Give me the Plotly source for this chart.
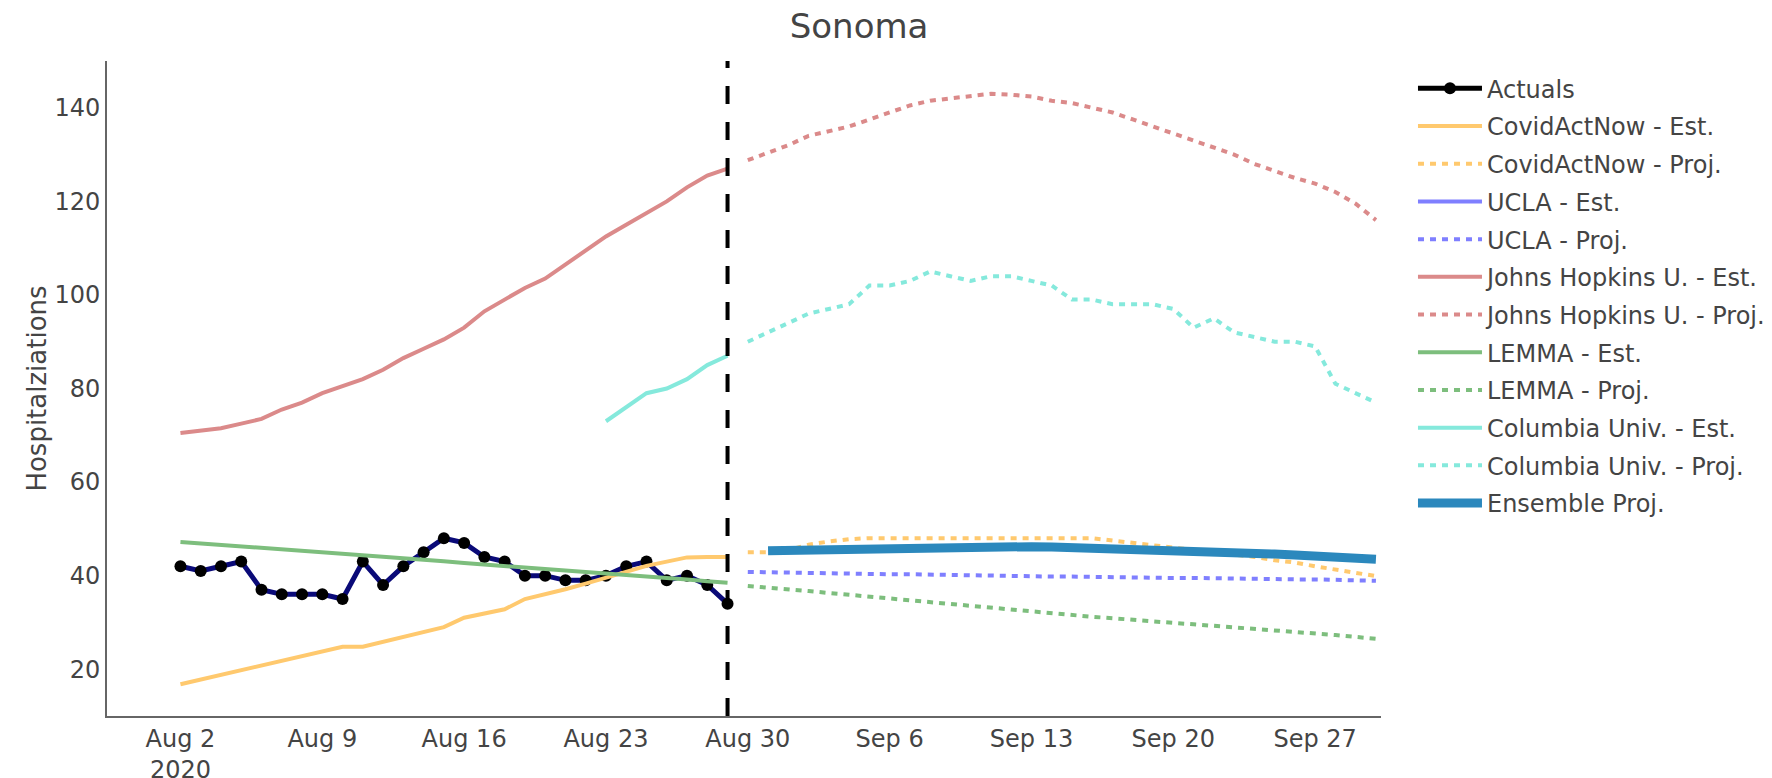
import plotly.graph_objects as go
import pandas as pd

# ---------------- data ----------------
est_dates = pd.date_range("2020-08-02", "2020-08-29").strftime("%Y-%m-%d").tolist()
proj_dates = pd.date_range("2020-08-30", "2020-09-30").strftime("%Y-%m-%d").tolist()
ens_dates = pd.date_range("2020-08-31", "2020-09-30").strftime("%Y-%m-%d").tolist()
col_est_dates = pd.date_range("2020-08-23", "2020-08-29").strftime("%Y-%m-%d").tolist()

actuals = [42, 41, 42, 43, 37, 36, 36, 36, 35, 43, 38, 42, 45, 48, 47, 44, 43, 40,
           40, 39, 39, 40, 42, 43, 39, 40, 38, 34]

can_est = [16.8, 17.8, 18.9, 19.9, 20.9, 22.0, 23.0, 24.0, 24.8, 24.8, 25.9, 26.9,
           27.9, 29.0, 31.0, 31.9, 32.8, 35.0, 36.0, 37.1, 38.3, 39.6, 40.8, 42.1,
           43.0, 43.9, 44.0, 44.0]
can_proj = [45.0, 45.0, 45.5, 46.6, 47.3, 47.8, 48.0, 48.0, 48.0, 48.0, 48.0, 48.0,
            48.0, 48.0, 48.0, 48.0, 48.0, 48.0, 47.5, 47.0, 46.6, 46.0, 45.5, 45.0,
            44.5, 44.0, 43.3, 42.8, 42.0, 41.2, 40.6, 39.9]

ucla_proj = [40.8, 40.7, 40.7, 40.6, 40.5, 40.5, 40.4, 40.3, 40.3, 40.2, 40.1, 40.1,
             40.0, 40.0, 39.9, 39.8, 39.8, 39.7, 39.7, 39.6, 39.6, 39.5, 39.5, 39.4,
             39.4, 39.3, 39.3, 39.2, 39.2, 39.1, 39.0, 38.9]

jhu_est = [70.5, 71.0, 71.5, 72.5, 73.5, 75.5, 77.0, 79.0, 80.5, 82.0, 84.0, 86.5,
           88.5, 90.5, 93.0, 96.5, 99.0, 101.5, 103.5, 106.5, 109.5, 112.5, 115.0,
           117.5, 120.0, 123.0, 125.5, 127.0]
jhu_proj = [128.8, 130.5, 132.0, 134.0, 135.0, 136.0, 137.5, 139.0, 140.5, 141.5,
            142.0, 142.5, 143.0, 142.8, 142.4, 141.5, 141.0, 140.0, 139.0, 137.5,
            136.0, 134.5, 133.0, 131.5, 130.0, 128.0, 126.5, 125.0, 123.8, 122.0,
            119.5, 116.0]

lemma_est = [47.2, 46.9, 46.6, 46.3, 46.0, 45.7, 45.3, 45.0, 44.7, 44.4, 44.0, 43.7,
             43.4, 43.1, 42.7, 42.4, 42.1, 41.8, 41.4, 41.1, 40.8, 40.5, 40.2, 39.8,
             39.5, 39.2, 38.8, 38.5]
lemma_proj = [37.8, 37.5, 37.1, 36.7, 36.3, 35.9, 35.5, 35.1, 34.7, 34.3, 33.9, 33.5,
              33.1, 32.7, 32.3, 31.9, 31.6, 31.2, 30.9, 30.5, 30.2, 29.9, 29.6, 29.3,
              29.0, 28.6, 28.3, 28.0, 27.7, 27.3, 26.9, 26.5]

col_est = [73, 76, 79, 80, 82, 85, 87]
col_proj = [90, 92, 94, 96, 97, 98, 102, 102, 103, 105, 104, 103, 104, 104, 103, 102,
            99, 99, 98, 98, 98, 97, 93, 95, 92, 91, 90, 90, 89, 81, 79, 77]

ensemble = [45.3, 45.4, 45.5, 45.6, 45.7, 45.8, 45.9, 46.0, 46.1, 46.2, 46.3, 46.3,
            46.2, 46.2, 46.1, 46.0, 45.9, 45.8, 45.7, 45.6, 45.4, 45.3, 45.1, 45.0,
            44.8, 44.6, 44.4, 44.2, 44.0, 43.8, 43.5]

last_actual_date = "2020-08-29"

# ---------------- styles ----------------
C_CAN = "#FFC96E"
C_UCLA = "#7F7FFF"
C_JHU = "#DB8A8A"
C_LEMMA = "#7DBE7D"
C_COL = "#85E9DC"
C_ENS = "#2B88BD"
DOT = "6px,6px"
W = 4

fig = go.Figure()

fig.add_trace(go.Scatter(x=est_dates, y=actuals, mode="lines+markers", name="Actuals",
                         legendgroup="act", showlegend=False,
                         line=dict(color="#0a0a78", width=5),
                         marker=dict(color="black", size=12)))
fig.add_trace(go.Scatter(x=[None], y=[None], mode="lines+markers", name="Actuals",
                         legendgroup="act", line=dict(color="black", width=5),
                         marker=dict(color="black", size=12)))

def line(x, y, name, color, dash=None, width=W):
    fig.add_trace(go.Scatter(x=x, y=y, mode="lines", name=name, legendgroup=name,
                             line=dict(color=color, width=width, dash=dash)))

line(est_dates, can_est, "CovidActNow - Est.", C_CAN)
line(proj_dates, can_proj, "CovidActNow - Proj.", C_CAN, DOT)
line([None], [None], "UCLA - Est.", C_UCLA)
line(proj_dates, ucla_proj, "UCLA - Proj.", C_UCLA, DOT)
line(est_dates, jhu_est, "Johns Hopkins U. - Est.", C_JHU)
line(proj_dates, jhu_proj, "Johns Hopkins U. - Proj.", C_JHU, DOT)
line(est_dates, lemma_est, "LEMMA - Est.", C_LEMMA)
line(proj_dates, lemma_proj, "LEMMA - Proj.", C_LEMMA, DOT)
line(col_est_dates, col_est, "Columbia Univ. - Est.", C_COL)
line(proj_dates, col_proj, "Columbia Univ. - Proj.", C_COL, DOT)
line(ens_dates, ensemble, "Ensemble Proj.", C_ENS, None, 9)

fig.add_shape(type="line", xref="x", yref="paper", x0=last_actual_date, x1=last_actual_date,
              y0=0, y1=1, line=dict(color="black", width=4, dash="18px,18px"))

fig.update_layout(
    width=1772, height=778,
    margin=dict(l=99, r=399, t=53, b=70, autoexpand=False),
    paper_bgcolor="white", plot_bgcolor="white",
    font=dict(family="DejaVu Sans, Verdana, sans-serif", size=24, color="#444"),
    title=dict(text="Sonoma", x=0.4803, xref="container", xanchor="center",
               y=1 - 18 / 778, yref="container", yanchor="middle",
               font=dict(size=34, color="#444")),
    legend=dict(x=1.0251, y=0.992, xanchor="left", yanchor="top", tracegroupgap=3.5,
                itemwidth=64, font=dict(size=24, color="#444"), bgcolor="rgba(0,0,0,0)"),
    xaxis=dict(type="date", range=["2020-07-29 09:00", "2020-09-30 06:00"],
               tick0="2020-08-02", dtick=7 * 86400000, showgrid=False, zeroline=False,
               showline=True, linecolor="#666", linewidth=2, ticks="", automargin=False),
    yaxis=dict(range=[10, 150], tick0=0, dtick=20, showgrid=False, zeroline=False,
               showline=True, linecolor="#666", linewidth=2, ticks="", automargin=False,
               title=dict(text="Hospitalziations", standoff=0,
                          font=dict(size=26, color="#444"))),
)

fig.write_html("out.html")
